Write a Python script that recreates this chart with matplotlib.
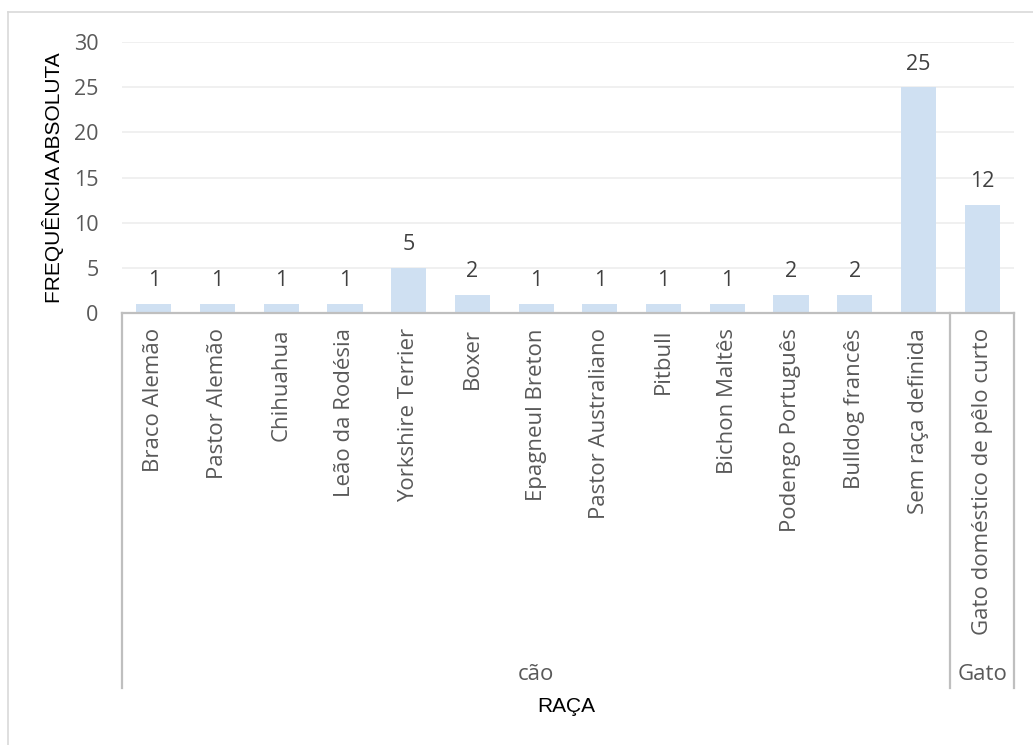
import matplotlib
matplotlib.use("Agg")
import matplotlib.pyplot as plt
from matplotlib.lines import Line2D
from matplotlib.transforms import blended_transform_factory

# Data
racas = ["Braco Alemão", "Pastor Alemão", "Chihuahua", "Leão da Rodésia",
         "Yorkshire Terrier", "Boxer", "Epagneul Breton", "Pastor Australiano",
         "Pitbull", "Bichon Maltês", "Podengo Português", "Bulldog francês",
         "Sem raça definida", "Gato doméstico de pêlo curto"]
frequencia = [1, 1, 1, 1, 5, 2, 1, 1, 1, 1, 2, 2, 25, 12]
especies = ["cão", "Gato"]
n_por_especie = [13, 1]
y_ticks = [0, 5, 10, 15, 20, 25, 30]

W, H = 1033, 745
fig = plt.figure(figsize=(W / 100, H / 100), dpi=100)
ax = fig.add_axes([122 / W, 1 - 313 / H, (1014 - 122) / W, (313 - 42) / H])

label_font = "Open Sans"
title_font = "Liberation Sans"
grey_txt = "#595959"
line_grey = "#BFBFBF"
fs_cat = 16
fs_num = 15.5
fs_title = 15

x = list(range(len(racas)))
ax.bar(x, frequencia, width=0.55, color="#CFE0F2", zorder=2)
ax.set_xlim(-0.5, len(racas) - 0.5)
ax.set_ylim(0, 30)

# Value labels above bars
for xi, v in zip(x, frequencia):
    ax.annotate(str(v), (xi, v), xytext=(0, 9), textcoords="offset points",
                ha="center", va="bottom", fontsize=fs_num, color="#404040",
                family=label_font)

# Gridlines and ticks
ax.set_yticks(y_ticks)
ax.set_yticklabels([str(t) for t in y_ticks], family=label_font,
                   fontsize=fs_num, color=grey_txt)
ax.yaxis.grid(True, color="#EDEDED", lw=1.2, zorder=0)
ax.set_axisbelow(True)
ax.tick_params(axis="y", length=0, pad=17)

ax.set_xticks(x)
ax.set_xticklabels(racas, rotation=90, va="top", ha="center",
                   family=label_font, fontsize=fs_cat, color=grey_txt)
ax.tick_params(axis="x", length=0, pad=11)

for s in ["top", "right", "left"]:
    ax.spines[s].set_visible(False)
ax.spines["bottom"].set_color(line_grey)
ax.spines["bottom"].set_linewidth(1.6)

# Group separators and group labels
trans = blended_transform_factory(ax.transData, fig.transFigure)
y_top = 1 - 313 / H
y_bot = 1 - 688 / H
bounds = [-0.5]
for n in n_por_especie:
    bounds.append(bounds[-1] + n)
for b in bounds:
    fig.add_artist(Line2D([b, b], [y_top, y_bot], transform=trans,
                          color=line_grey, lw=1.6))
for i, esp in enumerate(especies):
    cx = (bounds[i] + bounds[i + 1]) / 2
    fig.text(cx, 1 - 675 / H, esp, transform=trans, ha="center", va="center",
             family=label_font, fontsize=fs_cat, color=grey_txt)

# Axis titles
fig.text(566 / W, 1 - 706 / H, "RAÇA", ha="center", va="center",
         family=title_font, fontsize=fs_title, color="black")
fig.text(53 / W, 1 - 178 / H, "FREQUÊNCIA ABSOLUTA", ha="center", va="center",
         rotation=90, family=title_font, fontsize=fs_title, color="black")

# Chart-area border
fig.add_artist(Line2D([8 / W, 1], [1 - 12 / H, 1 - 12 / H],
                      transform=fig.transFigure, color="#D9D9D9", lw=1.2))
fig.add_artist(Line2D([8 / W, 8 / W], [0, 1 - 12 / H],
                      transform=fig.transFigure, color="#D9D9D9", lw=1.2))

fig.savefig("out.png", dpi=100, facecolor="white")
